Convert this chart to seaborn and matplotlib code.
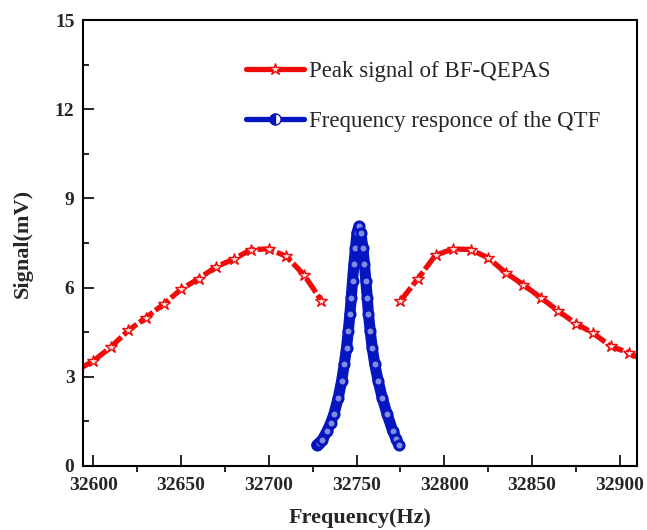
import matplotlib
matplotlib.use("Agg")
import matplotlib.pyplot as plt
from matplotlib.lines import Line2D
from matplotlib.ticker import MultipleLocator
import numpy as np
import pandas as pd
import seaborn as sns

# ---- data ----
red_left_freq = [32590, 32600, 32610, 32620, 32630, 32640, 32650, 32660, 32670,
                 32680, 32690, 32700, 32710, 32720, 32730]
red_left_sig = [3.20, 3.53, 4.00, 4.56, 4.99, 5.44, 5.94, 6.30, 6.70,
                6.96, 7.28, 7.30, 7.05, 6.43, 5.56]
red_right_freq = [32775, 32785, 32795, 32805, 32815, 32825, 32835, 32845, 32855,
                  32865, 32875, 32885, 32895, 32905, 32915]
red_right_sig = [5.55, 6.30, 7.09, 7.30, 7.28, 7.00, 6.50, 6.10, 5.66,
                 5.21, 4.79, 4.46, 4.02, 3.81, 3.50]

blue_freq = [32727.3, 32728.5, 32730.5, 32733.3, 32735.3, 32737.1, 32739.6, 32741.5,
             32743.0, 32744.3, 32745.3, 32746.2, 32747.0, 32747.7, 32748.5, 32749.4,
             32750.3, 32751.3, 32752.4, 32753.6, 32754.5, 32755.3, 32756.1, 32756.8,
             32757.8, 32758.9, 32760.4, 32762.3, 32764.6, 32767.4, 32770.6, 32772.5,
             32774.0]
blue_sig = [0.70, 0.76, 0.88, 1.18, 1.45, 1.74, 2.30, 2.86,
            3.42, 3.98, 4.54, 5.10, 5.66, 6.22, 6.78, 7.34,
            7.85, 8.06, 7.85, 7.34, 6.78, 6.22, 5.66, 5.10,
            4.54, 3.98, 3.42, 2.86, 2.30, 1.74, 1.18, 0.92,
            0.70]

x_ticks = [32600, 32650, 32700, 32750, 32800, 32850, 32900]
y_ticks = [0, 3, 6, 9, 12, 15]
label_red = "Peak signal of BF-QEPAS"
label_blue = "Frequency responce of the QTF"

RED = "#f00a0a"
BLUE = "#0515c0"

sns.set_style("ticks")
plt.rcParams["font.family"] = ["Liberation Serif", "DejaVu Serif"]

fig = plt.figure(figsize=(6.47, 5.30), dpi=100)
ax = fig.add_axes([0.128, 0.121, 0.857, 0.841])

df_l = pd.DataFrame({"f": red_left_freq, "s": red_left_sig})
df_r = pd.DataFrame({"f": red_right_freq, "s": red_right_sig})
df_b = pd.DataFrame({"f": blue_freq, "s": blue_sig})

red_kw = dict(color=RED, lw=3.8, dashes=(3.2, 0.6), marker="*", ms=9,
              mfc="#ffe0e0", mec=RED, mew=1.0, sort=False, estimator=None,
              legend=False)
sns.lineplot(data=df_l, x="f", y="s", ax=ax, **red_kw)
sns.lineplot(data=df_r, x="f", y="s", ax=ax, **red_kw)

# blue thick band + open circle markers
sns.lineplot(data=df_b, x="f", y="s", ax=ax, color=BLUE, lw=8, sort=False,
             estimator=None, legend=False, solid_capstyle="round",
             solid_joinstyle="round")
sns.lineplot(data=df_b, x="f", y="s", ax=ax, color=BLUE, lw=0, marker="o",
             ms=6.5, mfc="#7f8ce0", mec=BLUE, mew=2.2, sort=False,
             estimator=None, legend=False)

ax.set_xlim(32594, 32910)
ax.set_ylim(0, 15)
ax.set_xticks(x_ticks)
ax.set_yticks(y_ticks)
ax.xaxis.set_minor_locator(MultipleLocator(25))
ax.yaxis.set_minor_locator(MultipleLocator(1.5))
ax.tick_params(axis="x", which="major", direction="in", length=8, width=1.4,
               pad=8)
ax.tick_params(axis="x", which="minor", direction="out", length=4, width=1.4)
ax.tick_params(axis="y", which="major", direction="in", length=8, width=1.4,
               pad=6)
ax.tick_params(axis="y", which="minor", direction="in", length=4, width=1.4)
for lab in ax.get_xticklabels() + ax.get_yticklabels():
    lab.set_fontsize(14)
    lab.set_fontweight("bold")
for sp in ax.spines.values():
    sp.set_visible(True)
    sp.set_linewidth(1.5)
    sp.set_color("black")

ax.set_xlabel("Frequency(Hz)", fontsize=16, fontweight="bold", labelpad=10)
ax.set_ylabel("Signal(mV)", fontsize=16, fontweight="bold", labelpad=16)

h_red = Line2D([], [], color=RED, lw=3.8, marker="*", ms=9, mfc="#ffe0e0",
               mec=RED, mew=1.0)
h_blue = Line2D([], [], color=BLUE, lw=3.8, marker="o", ms=8, mfc=BLUE,
                mec=BLUE, mew=1.0, fillstyle="left", markerfacecoloralt="white")
ax.legend([h_red, h_blue], [label_red, label_blue], loc="upper left",
          bbox_to_anchor=(0.295, 0.908), frameon=False, fontsize=16.5,
          handlelength=2.5, handletextpad=0.25, labelspacing=1.25,
          borderpad=0, borderaxespad=0, numpoints=1)

fig.savefig("out.png", dpi=100)
